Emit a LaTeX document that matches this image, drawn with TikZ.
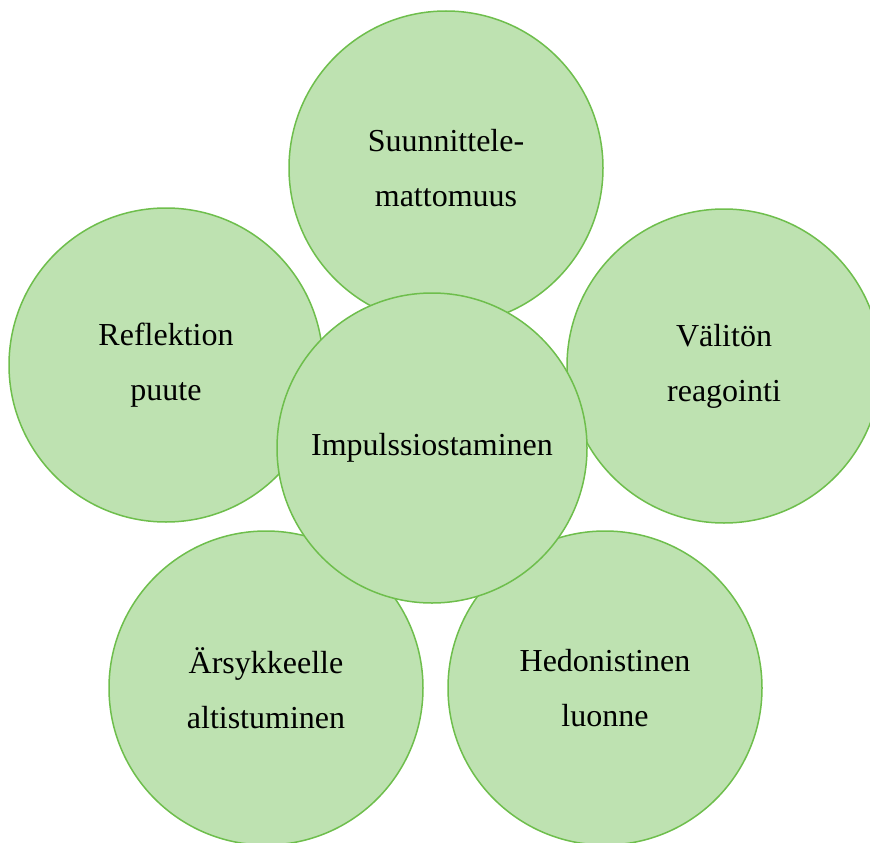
\documentclass[tikz,border=0pt]{standalone}
\usepackage{fontspec}
\setmainfont{Liberation Serif}
\definecolor{bubfill}{RGB}{190,226,177}
\definecolor{bubline}{RGB}{110,190,76}
\begin{document}
\begin{tikzpicture}[x=1pt, y=-1pt, thick,
	main/.style = {draw=bubline, fill=bubfill, line width=1.5pt, circle, inner sep=0pt,
		minimum size=314pt, align=center, font=\fontsize{32}{55}\selectfont}]
	\useasboundingbox (0,0) rectangle (870,843);
	\node[main] (S) at (446,168) {Suunnittele-\\mattomuus};
	\node[main] (R) at (166,365) {Reflektion\\puute};
	\node[main] (V) at (724,366) {Välitön\\reagointi};
	\node[main] (A) at (266,688) {Ärsykkeelle\\altistuminen};
	\node[main] (H) at (605,688) {Hedonistinen\\luonne};
	\node[main, minimum size=310pt] (I) at (432,448) {Impulssiostaminen};
\end{tikzpicture}
\end{document}
